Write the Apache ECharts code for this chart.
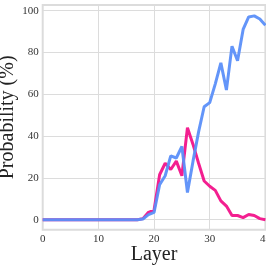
<!DOCTYPE html>
<html>
<head>
<meta charset="utf-8">
<script src="https://cdn.jsdelivr.net/npm/echarts@6/dist/echarts.min.js"></script>
<style>html,body{margin:0;padding:0;background:#fff;}#c{width:266px;height:266px;}</style>
</head>
<body>
<div id="c"></div>
<script>
const layers = [0,1,2,3,4,5,6,7,8,9,10,11,12,13,14,15,16,17,18,19,20,21,22,23,24,25,26,27,28,29,30,31,32,33,34,35,36,37,38,39,40];
const blueValues = [0,0,0,0,0,0,0,0,0,0,0,0,0,0,0,0,0,0,0.3,2.4,3.5,16.7,21,30.5,29.5,35,13,28,42,54,56,65,75,62,83,76,91,97,97.5,96,93];
const pinkValues = [0,0,0,0,0,0,0,0,0,0,0,0,0,0,0,0,0,0,0.5,3.5,4.5,21.5,27,24,28,21,44,36,27,18.5,16,14,9,6.5,2,2,1,2.5,2,0.5,0];
const yTicks = [0,20,40,60,80,100];
const xTicks = [0,10,20,30,40];

const chart = echarts.init(document.getElementById('c'), null, {renderer:'canvas'});
const font = '"Liberation Serif","DejaVu Serif",serif';
chart.setOption({
  animation: false,
  backgroundColor: '#ffffff',
  grid: {left: 42.7, right: 0.6, top: 5, bottom: 36.3, show: true, borderColor: '#dcdcdc', borderWidth: 2, containLabel: false, outerBoundsMode: 'none'},
  xAxis: {
    type: 'value', min: 0, max: 40, interval: 10,
    name: 'Layer', nameLocation: 'middle', nameGap: 15, nameMoveOverlap: false,
    nameTextStyle: {fontFamily: font, fontSize: 20, color: '#222'},
    axisLine: {show: false}, axisTick: {show: false},
    axisLabel: {fontFamily: font, fontSize: 11, color: '#333', margin: 4,
      formatter: v => xTicks.includes(v) ? String(v) : ''},
    splitLine: {show: true, lineStyle: {color: '#dcdcdc', width: 1}}
  },
  yAxis: {
    type: 'value', min: -4.8, max: 102.7, splitNumber: 5,
    name: 'Probability (%)', nameLocation: 'middle', nameGap: 25, nameMoveOverlap: false,
    nameTextStyle: {fontFamily: font, fontSize: 20, color: '#222'},
    axisLine: {show: false}, axisTick: {show: false},
    axisLabel: {fontFamily: font, fontSize: 11, color: '#333', margin: 4, showMinLabel: false, showMaxLabel: false,
      formatter: v => yTicks.includes(Math.round(v*1000)/1000) ? String(Math.round(v)) : ''},
    splitLine: {show: true, lineStyle: {color: '#dcdcdc', width: 1}}
  },
  series: [
    {type: 'line', data: layers.map((l,i) => [l, pinkValues[i]]), showSymbol: false, symbol: 'none',
      lineStyle: {color: '#f2138a', width: 3, opacity: 0.95}, z: 2},
    {type: 'line', data: layers.map((l,i) => [l, blueValues[i]]), showSymbol: false, symbol: 'none',
      lineStyle: {color: '#5b8ff9', width: 3, opacity: 0.95}, z: 3}
  ]
});
</script>
</body>
</html>
